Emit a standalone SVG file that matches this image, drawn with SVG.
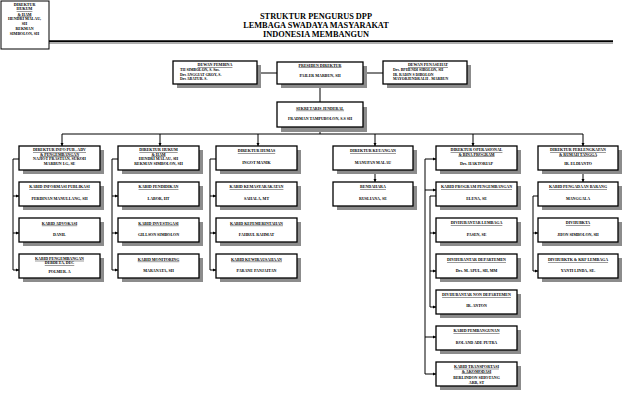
<svg xmlns="http://www.w3.org/2000/svg" width="638" height="418" viewBox="0 0 638 418">
<defs>
<style>
.bx{fill:#fff;stroke:#000;stroke-width:1.3}
.sh{fill:#8c8c8c}
.c{fill:none;stroke:#000;stroke-width:1}
.t,.n,.l{font-family:"Liberation Serif","Times New Roman",serif;font-weight:bold;font-size:4px;fill:#000}
.l{font-size:3.8px}
.t,.n{text-anchor:middle}
.t{text-decoration:underline}
.h{font-family:"Liberation Serif","Times New Roman",serif;font-weight:bold;font-size:8.3px;text-anchor:middle;fill:#000}
</style>
<marker id="ah" viewBox="0 0 6 6" refX="6" refY="3" markerWidth="3.2" markerHeight="3.2" markerUnits="userSpaceOnUse" orient="auto"><path d="M0,0L6,3L0,6z" fill="#000"/></marker>
</defs>
<rect width="638" height="418" fill="#fff"/>

<g id="header">
<text class="h" x="316" y="19">STRUKTUR PENGURUS DPP</text>
<text class="h" x="316" y="28">LEMBAGA SWADAYA MASYARAKAT</text>
<text class="h" x="316" y="37">INDONESIA MEMBANGUN</text>
<line x1="49" y1="41.3" x2="613" y2="41.3" stroke="#000" stroke-width="2"/>
<line x1="49" y1="43.2" x2="613" y2="43.2" stroke="#8c8c8c" stroke-width="1"/>
</g>

<g id="connectors">
<path class="c" d="M257,73H277M363,73H383M320,84V102M320,127V134M62,134H583"/>
<path class="c" marker-end="url(#ah)" d="M62,134V146"/>
<path class="c" marker-end="url(#ah)" d="M160,134V146"/>
<path class="c" marker-end="url(#ah)" d="M258,134V146"/>
<path class="c" marker-end="url(#ah)" d="M375,134V146"/>
<path class="c" marker-end="url(#ah)" d="M473,134V146"/>
<path class="c" marker-end="url(#ah)" d="M583,134V146"/>
<path class="c" d="M19,159H13V270M118,159H112V270M216,159H210V270"/>
<path class="c" marker-end="url(#ah)" d="M13,196H19"/>
<path class="c" marker-end="url(#ah)" d="M13,233H19"/>
<path class="c" marker-end="url(#ah)" d="M13,270H19"/>
<path class="c" marker-end="url(#ah)" d="M112,196H118"/>
<path class="c" marker-end="url(#ah)" d="M112,233H118"/>
<path class="c" marker-end="url(#ah)" d="M112,270H118"/>
<path class="c" marker-end="url(#ah)" d="M210,196H216"/>
<path class="c" marker-end="url(#ah)" d="M210,233H216"/>
<path class="c" marker-end="url(#ah)" d="M210,270H216"/>
<path class="c" marker-end="url(#ah)" d="M375,170V182"/>
<path class="c" d="M425,159V374M436,196H430V307"/>
<path class="c" marker-end="url(#ah)" d="M425,159H436"/>
<path class="c" marker-end="url(#ah)" d="M425,190H436"/>
<path class="c" marker-end="url(#ah)" d="M425,337H436"/>
<path class="c" marker-end="url(#ah)" d="M425,374H436"/>
<path class="c" marker-end="url(#ah)" d="M430,233H436"/>
<path class="c" marker-end="url(#ah)" d="M430,271H436"/>
<path class="c" marker-end="url(#ah)" d="M430,307H436"/>
<path class="c" marker-end="url(#ah)" d="M583,170V182"/>
<path class="c" d="M538,196H533V271"/>
<path class="c" marker-end="url(#ah)" d="M533,233H538"/>
<path class="c" marker-end="url(#ah)" d="M533,271H538"/>
</g>

<g id="n-topleft">
<rect x="1" y="1" width="48" height="48" fill="#fff" stroke="#000" stroke-width="1"/>
<text class="n" x="24.5" y="5.7">DIREKTUR</text>
<text class="t" x="24.5" y="10.1">HUKUM</text>
<text class="t" x="24.5" y="15.7">&amp; HAM</text>
<text class="n" x="24.5" y="20.4">HENDRI MALAU,</text>
<text class="n" x="24.5" y="25.1">SH</text>
<text class="n" x="24.5" y="30.1">REKMAN</text>
<text class="n" x="24.5" y="35.1">SIMBOLON, SH</text>
</g>

<g id="n-pembina">
<rect class="sh" x="177" y="65" width="84" height="23"/>
<rect class="bx" x="173" y="61" width="84" height="23"/>
<text class="t" x="215" y="66.2">DEWAN PEMBINA</text>
<text class="l" x="180" y="71">TH SIMBOLON, S. Sos.</text>
<text class="l" x="180" y="75.5">Drs ANGGIAT GROY, S.</text>
<text class="l" x="180" y="80">Drs ABATUR. S.</text>
</g>

<g id="n-presiden">
<rect class="sh" x="281" y="66" width="86" height="22"/>
<rect class="bx" x="277" y="62" width="86" height="22"/>
<text class="t" x="320" y="66.6">PRESIDEN DIREKTUR</text>
<text class="n" x="320" y="77.1">PAILER MARBUN, SH</text>
</g>

<g id="n-penasehat">
<rect class="sh" x="387" y="65" width="84" height="23"/>
<rect class="bx" x="383" y="61" width="84" height="23"/>
<text class="t" x="428" y="66.2">DEWAN PENASEHAT</text>
<text class="l" x="393" y="71">Drs. BPHENDI SIBOLON, SH</text>
<text class="l" x="393" y="75.5">IR. RADIN S DIBOLON</text>
<text class="l" x="393" y="80">MAYORJENDRALH . MARBUN</text>
</g>

<g id="n-sekjen">
<rect class="sh" x="281" y="107" width="86" height="25"/>
<rect class="bx" x="277" y="102" width="86" height="25"/>
<text class="t" x="320" y="109.7">SEKRETARIS JENDERAL</text>
<text class="n" x="320" y="120.4">FRADMAN TAMPUBOLON, S.S SH</text>
</g>

<!-- column 1 -->
<g id="n-dir-info">
<rect class="sh" x="23" y="150" width="81" height="24"/>
<rect class="bx" x="19" y="146" width="81" height="24"/>
<text class="t" x="59.5" y="151.2">DIREKTUR INFO PUB , ADV</text>
<text class="t" x="59.5" y="155.6">&amp; PENGEMBANGAN</text>
<text class="n" x="59.5" y="160.2">NAJIOT PRASTIAN, SUKOH</text>
<text class="n" x="59.5" y="164.6">MARBUN I.G, SE</text>
</g>
<g id="n-kabid-info">
<rect class="sh" x="23" y="186" width="81" height="24"/>
<rect class="bx" x="19" y="182" width="81" height="24"/>
<text class="t" x="59.5" y="188.1">KABID INFORMASI PUBLIKASI</text>
<text class="n" x="59.5" y="199.7">PERDINAN MANULLANG, SH</text>
</g>
<g id="n-kabid-adv">
<rect class="sh" x="23" y="222" width="81" height="24"/>
<rect class="bx" x="19" y="218" width="81" height="24"/>
<text class="t" x="59.5" y="224.7">KABID ADVOKASI</text>
<text class="n" x="59.5" y="235.7">DANIL</text>
</g>
<g id="n-kabid-peng1">
<rect class="sh" x="23" y="258" width="81" height="24"/>
<rect class="bx" x="19" y="254" width="81" height="24"/>
<text class="t" x="59.5" y="259.8">KABID PENGEMBANGAN</text>
<text class="t" x="59.5" y="264.3">DEBDETA, DEC</text>
<text class="n" x="59.5" y="273.1">POLMER. A</text>
</g>

<!-- column 2 -->
<g id="n-dir-hukum">
<rect class="sh" x="122" y="150" width="81" height="24"/>
<rect class="bx" x="118" y="146" width="81" height="24"/>
<text class="t" x="158.5" y="151.2">DIREKTUR HUKUM</text>
<text class="t" x="158.5" y="155.6">&amp; HAM</text>
<text class="n" x="158.5" y="160.2">HENDRI MALAU, SH</text>
<text class="n" x="158.5" y="164.6">REKMAN SIMBOLON, SH</text>
</g>
<g id="n-kabid-pend">
<rect class="sh" x="122" y="186" width="81" height="24"/>
<rect class="bx" x="118" y="182" width="81" height="24"/>
<text class="t" x="158.5" y="188.1">KABID PENDIDIKAN</text>
<text class="n" x="158.5" y="199.7">LABOR, HT</text>
</g>
<g id="n-kabid-inv">
<rect class="sh" x="122" y="222" width="81" height="24"/>
<rect class="bx" x="118" y="218" width="81" height="24"/>
<text class="t" x="158.5" y="224.7">KABID INVESTIGASI</text>
<text class="n" x="158.5" y="235.7">GILLSON SIMBOLON</text>
</g>
<g id="n-kabid-mon">
<rect class="sh" x="122" y="258" width="81" height="24"/>
<rect class="bx" x="118" y="254" width="81" height="24"/>
<text class="t" x="158.5" y="260.7">KABID MONITORING</text>
<text class="n" x="158.5" y="271.7">MARANATA, SH</text>
</g>

<!-- column 3 -->
<g id="n-dir-humas">
<rect class="sh" x="220" y="150" width="81" height="24"/>
<rect class="bx" x="216" y="146" width="81" height="24"/>
<text class="t" x="256.5" y="152.1">DIREKTUR HUMAS</text>
<text class="n" x="256.5" y="163.7">INGOT MANIK</text>
</g>
<g id="n-kabid-kemas">
<rect class="sh" x="220" y="186" width="81" height="24"/>
<rect class="bx" x="216" y="182" width="81" height="24"/>
<text class="t" x="256.5" y="188.1">KABID KEMASYARAKATAN</text>
<text class="n" x="256.5" y="199.7">SAHALA, MT</text>
</g>
<g id="n-kabid-kepem">
<rect class="sh" x="220" y="222" width="81" height="24"/>
<rect class="bx" x="216" y="218" width="81" height="24"/>
<text class="t" x="256.5" y="224.7">KABID KEPEMERINTAHAN</text>
<text class="n" x="256.5" y="235.7">FAHRUL RAHMAT</text>
</g>
<g id="n-kabid-wira">
<rect class="sh" x="220" y="258" width="81" height="24"/>
<rect class="bx" x="216" y="254" width="81" height="24"/>
<text class="t" x="256.5" y="260.7">KABID KEWIRAUSAHAAN</text>
<text class="n" x="256.5" y="271.7">PARANE PANJAITAN</text>
</g>

<!-- column 4 -->
<g id="n-dir-keu">
<rect class="sh" x="337" y="150" width="80" height="24"/>
<rect class="bx" x="333" y="146" width="80" height="24"/>
<text class="t" x="373" y="152.1">DIREKTUR KEUANGAN</text>
<text class="n" x="373" y="163.7">MANUPAN MALAU</text>
</g>
<g id="n-bendahara">
<rect class="sh" x="337" y="186" width="80" height="24"/>
<rect class="bx" x="333" y="182" width="80" height="24"/>
<text class="t" x="373" y="188.1">BENDAHARA</text>
<text class="n" x="373" y="199.7">RUSLIANA, SE</text>
</g>

<!-- column 5 -->
<g id="n-dir-ops">
<rect class="sh" x="440" y="150" width="81" height="24"/>
<rect class="bx" x="436" y="146" width="81" height="24"/>
<text class="t" x="476.5" y="151.2">DIREKTUR OPERASIONAL</text>
<text class="t" x="476.5" y="155.6">&amp; BINA PROGRAM</text>
<text class="n" x="476.5" y="164.7">Drs. HAKTORIAP</text>
</g>
<g id="n-kabid-prog">
<rect class="sh" x="440" y="186" width="81" height="24"/>
<rect class="bx" x="436" y="182" width="81" height="24"/>
<text class="t" x="476.5" y="188.1">KABID PROGRAM PENGEMBANGAN</text>
<text class="n" x="476.5" y="199.7">ELENA, SE</text>
</g>
<g id="n-div-lembaga">
<rect class="sh" x="440" y="222" width="81" height="24"/>
<rect class="bx" x="436" y="218" width="81" height="24"/>
<text class="t" x="476.5" y="224.1">DIVHUBANTAR LEMBAGA</text>
<text class="n" x="476.5" y="235.7">PASEN, SE</text>
</g>
<g id="n-div-dep">
<rect class="sh" x="440" y="258" width="81" height="24"/>
<rect class="bx" x="436" y="254" width="81" height="24"/>
<text class="t" x="476.5" y="261.4">DIVHUBANTAR DEPARTEMEN</text>
<text class="n" x="476.5" y="272.4">Drs. M. APUL, SH, MM</text>
</g>
<g id="n-div-nondep">
<rect class="sh" x="440" y="294" width="81" height="24"/>
<rect class="bx" x="436" y="290" width="81" height="24"/>
<text class="t" x="476.5" y="296.4">DIVHUBANTAR NON DEPARTEMEN</text>
<text class="n" x="476.5" y="307.4">IR. ANTON</text>
</g>
<g id="n-kabid-pemb">
<rect class="sh" x="440" y="330" width="81" height="24"/>
<rect class="bx" x="436" y="326" width="81" height="24"/>
<text class="t" x="476.5" y="332.1">KABID PEMBANGUNAN</text>
<text class="n" x="476.5" y="343.7">ROLAND ADE PUTRA</text>
</g>
<g id="n-kabid-trans">
<rect class="sh" x="440" y="366" width="81" height="24"/>
<rect class="bx" x="436" y="362" width="81" height="24"/>
<text class="t" x="476.5" y="367.8">KABID TRANSPORTASI</text>
<text class="t" x="476.5" y="372.5">&amp; AKOMODASI</text>
<text class="n" x="476.5" y="379.4">BERLINDON SIHOTANG</text>
<text class="n" x="476.5" y="384.3">ARB, ST</text>
</g>

<!-- column 6 -->
<g id="n-dir-perl">
<rect class="sh" x="542" y="150" width="80" height="24"/>
<rect class="bx" x="538" y="146" width="80" height="24"/>
<text class="t" x="578" y="151.2">DIREKTUR PERLENGKAPAN</text>
<text class="t" x="578" y="155.6">&amp; RUMAH TANGGA</text>
<text class="n" x="578" y="164.7">IR. ELDIANTO</text>
</g>
<g id="n-kabid-pengadaan">
<rect class="sh" x="542" y="186" width="80" height="24"/>
<rect class="bx" x="538" y="182" width="80" height="24"/>
<text class="t" x="578" y="188.1">KABID PENGADAAN BARANG</text>
<text class="n" x="578" y="199.7">MANGGALA</text>
</g>
<g id="n-divhubkta">
<rect class="sh" x="542" y="222" width="80" height="24"/>
<rect class="bx" x="538" y="218" width="80" height="24"/>
<text class="t" x="578" y="224.1">DIVHUBKTA</text>
<text class="n" x="578" y="235.7">JHON SIMBOLON, SH</text>
</g>
<g id="n-divhubktk">
<rect class="sh" x="542" y="258" width="80" height="24"/>
<rect class="bx" x="538" y="254" width="80" height="24"/>
<text class="t" x="578" y="261.4">DIVHUBKTK &amp; KRF LEMBAGA</text>
<text class="n" x="578" y="272.4">YANTI LINDA, SE.</text>
</g>
</svg>
